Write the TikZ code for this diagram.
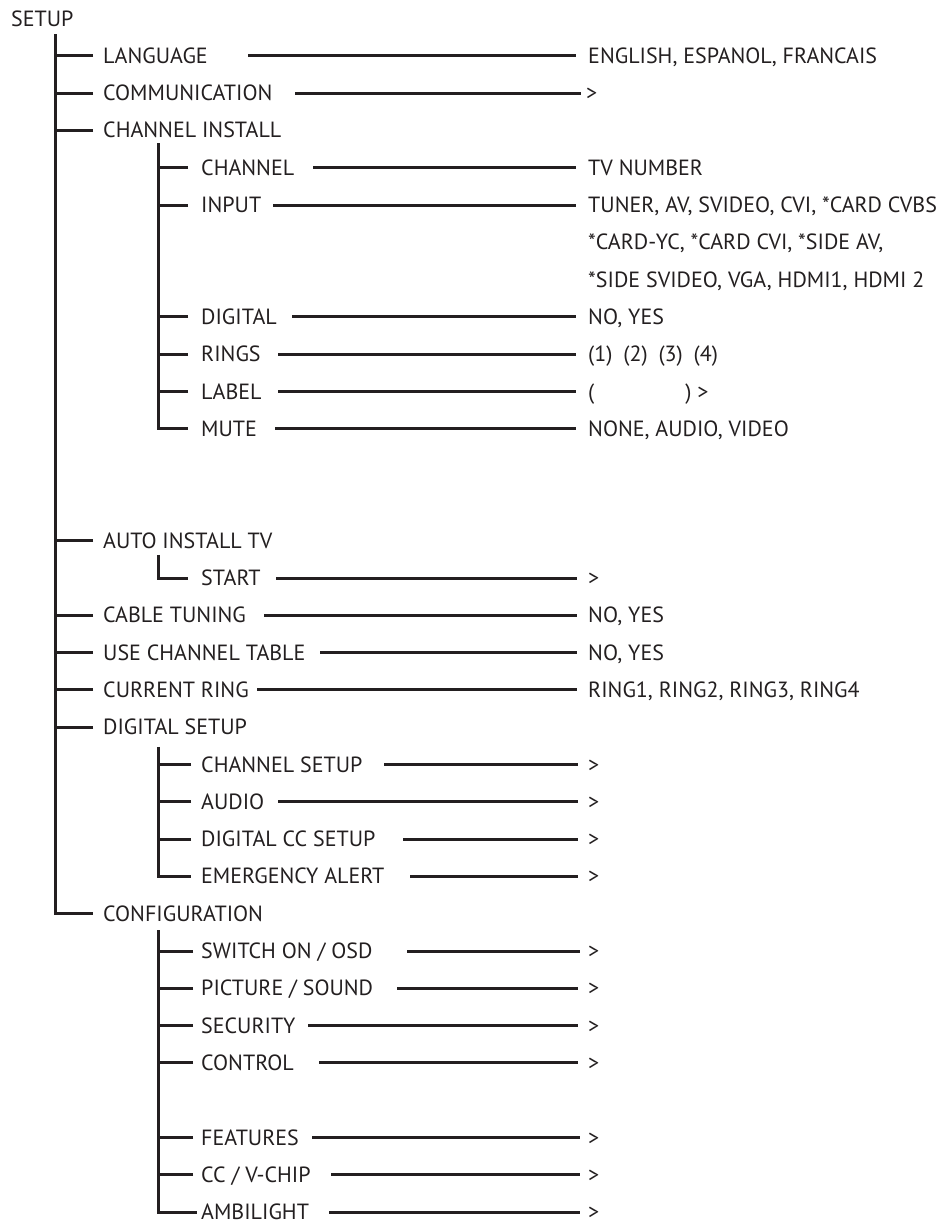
\documentclass[tikz,border=0pt]{standalone}
\usepackage{fontspec}
\setmainfont{PT Sans}
\definecolor{ink}{HTML}{231F20}
\newcommand\fsz{\fontsize{22pt}{24pt}\selectfont}
\tikzset{
  lab/.style={anchor=west, inner sep=0pt, text height=15pt, text depth=0pt, text=ink, font=\fsz},
  conn/.style={line width=3pt, draw=ink, line join=miter, line cap=butt},
}
\begin{document}
\begin{tikzpicture}[x=1pt,y=-37.3pt]
\path[use as bounding box, fill=white] (0,-0.496) rectangle (945,32.265);
% ---- labels level 0/1
\node[lab] (setup) at (11,0) {SETUP};
\node[lab] (lang) at (103,1) {LANGUAGE};
\node[lab] (comm) at (103,2) {COMMUNICATION};
\node[lab] (chinst) at (103,3) {CHANNEL INSTALL};
\node[lab] (auto) at (103,14) {AUTO INSTALL TV};
\node[lab] (cable) at (103,16) {CABLE TUNING};
\node[lab] (usetab) at (103,17) {USE CHANNEL TABLE};
\node[lab] (curring) at (103,18) {CURRENT RING};
\node[lab] (digsetup) at (103,19) {DIGITAL SETUP};
\node[lab] (config) at (103,24) {CONFIGURATION};
% ---- level 2
\node[lab] (chan) at (201,4) {CHANNEL};
\node[lab] (input) at (201,5) {INPUT};
\node[lab] (digital) at (201,8) {DIGITAL};
\node[lab] (rings) at (201,9) {RINGS};
\node[lab] (label) at (201,10) {LABEL};
\node[lab] (mute) at (201,11) {MUTE};
\node[lab] (start) at (201,15) {START};
\node[lab] (chsetup) at (201,20) {CHANNEL SETUP};
\node[lab] (audio) at (201,21) {AUDIO};
\node[lab] (digcc) at (201,22) {DIGITAL CC SETUP};
\node[lab] (emerg) at (201,23) {EMERGENCY ALERT};
\node[lab] (swon) at (201,25) {SWITCH ON / OSD};
\node[lab] (pict) at (201,26) {PICTURE / SOUND};
\node[lab] (secu) at (201,27) {SECURITY};
\node[lab] (ctrl) at (201,28) {CONTROL};
\node[lab] (feat) at (201,30) {FEATURES};
\node[lab] (ccv) at (201,31) {CC / V-CHIP};
\node[lab] (ambi) at (201,32) {AMBILIGHT};
% ---- values
\node[lab] (vlang) at (588,1) {ENGLISH, ESPANOL, FRANCAIS};
\node[lab] (vcomm) at (586,2) {>};
\node[lab] (vchan) at (588,4) {TV NUMBER};
\node[lab] (vinput) at (588,5) {TUNER, AV, SVIDEO, CVI, *CARD CVBS};
\node[lab] (vinput2) at (588,6) {*CARD-YC, *CARD CVI, *SIDE AV,};
\node[lab] (vinput3) at (588,7) {*SIDE SVIDEO, VGA, HDMI1, HDMI 2};
\node[lab] (vdig) at (588,8) {NO, YES};
\node[lab] (vrings) at (588,9) {(1)\hspace{5pt} (2)\hspace{5pt} (3)\hspace{5pt} (4)};
\node[lab] (vlabel) at (588,10) {(\hspace{91pt}) >};
\node[lab] (vmute) at (588,11) {NONE, AUDIO, VIDEO};
\node[lab] (vstart) at (588,15) {>};
\node[lab] (vcable) at (588,16) {NO, YES};
\node[lab] (vuse) at (588,17) {NO, YES};
\node[lab] (vcur) at (588,18) {RING1, RING2, RING3, RING4};
\node[lab] (vchs) at (588,20) {>};
\node[lab] (vaud) at (588,21) {>};
\node[lab] (vdcc) at (588,22) {>};
\node[lab] (vem) at (588,23) {>};
\node[lab] (vsw) at (588,25) {>};
\node[lab] (vpic) at (588,26) {>};
\node[lab] (vsec) at (588,27) {>};
\node[lab] (vctl) at (588,28) {>};
\node[lab] (vfeat) at (588,30) {>};
\node[lab] (vcc) at (588,31) {>};
\node[lab] (vamb) at (588,32) {>};
% ---- trunk lines
\coordinate (top0) at (55.5,0.416);
\coordinate (top1) at (158,3.34);
\coordinate (top2) at (158,14.38);
\coordinate (top3) at (158,19.53);
\coordinate (top4) at (158,24.44);
\draw[conn] (top0) |- ([xshift=-10pt]config.west);
\foreach \n in {lang,comm,chinst,auto,cable,usetab,curring,digsetup}
  \draw[conn] ([xshift=-10pt]\n.west) -- ++(-37.5,0);
\draw[conn] (top1) |- ([xshift=-13pt]mute.west);
\foreach \n in {chan,input,digital,rings,label}
  \draw[conn] ([xshift=-13pt]\n.west) -- ++(-30,0);
\draw[conn] (top2) |- ([xshift=-13pt]start.west);
\draw[conn] (top3) |- ([xshift=-10pt]emerg.west);
\foreach \n in {chsetup,audio,digcc}
  \draw[conn] ([xshift=-10pt]\n.west) -- ++(-33,0);
\draw[conn] (top4) |- ([xshift=-4pt]ambi.west);
\foreach \n in {swon,pict,secu,ctrl,feat,ccv}
  \draw[conn] ([xshift=-8pt]\n.west) -- ++(-35,0);
% ---- right connectors
\draw[conn] (248,1) -- ([xshift=-12pt]vlang.west);
\draw[conn] (295,2) -- ([xshift=-5pt]vcomm.west);
\draw[conn] (313,4) -- ([xshift=-12pt]vchan.west);
\draw[conn] (273,5) -- ([xshift=-12pt]vinput.west);
\draw[conn] (292,8) -- ([xshift=-12pt]vdig.west);
\draw[conn] (278,9) -- ([xshift=-12pt]vrings.west);
\draw[conn] (278,10) -- ([xshift=-12pt]vlabel.west);
\draw[conn] (275,11) -- ([xshift=-12pt]vmute.west);
\draw[conn] (276,15) -- ([xshift=-11pt]vstart.west);
\draw[conn] (264,16) -- ([xshift=-11pt]vcable.west);
\draw[conn] (320,17) -- ([xshift=-11pt]vuse.west);
\draw[conn] (257,18) -- ([xshift=-11pt]vcur.west);
\draw[conn] (384,20) -- ([xshift=-10pt]vchs.west);
\draw[conn] (278,21) -- ([xshift=-10pt]vaud.west);
\draw[conn] (403,22) -- ([xshift=-10pt]vdcc.west);
\draw[conn] (410,23) -- ([xshift=-10pt]vem.west);
\draw[conn] (407,25) -- ([xshift=-8pt]vsw.west);
\draw[conn] (397,26) -- ([xshift=-10pt]vpic.west);
\draw[conn] (308,27) -- ([xshift=-10pt]vsec.west);
\draw[conn] (319,28) -- ([xshift=-10pt]vctl.west);
\draw[conn] (312,30) -- ([xshift=-8pt]vfeat.west);
\draw[conn] (331,31) -- ([xshift=-8pt]vcc.west);
\draw[conn] (329,32) -- ([xshift=-8pt]vamb.west);
\end{tikzpicture}
\end{document}
